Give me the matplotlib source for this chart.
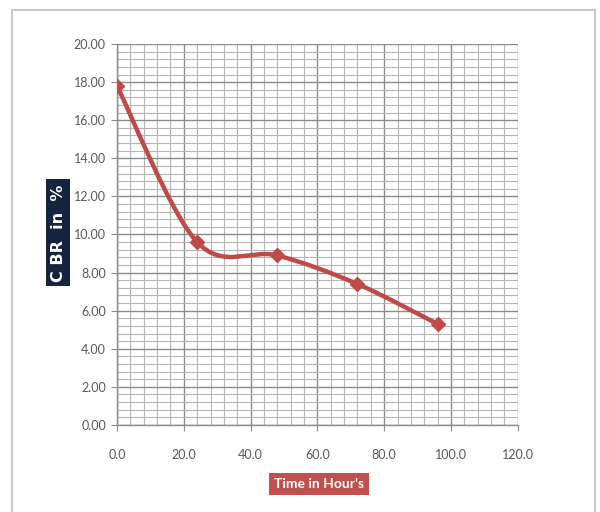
import numpy as np
import matplotlib.pyplot as plt
from matplotlib.path import Path
from matplotlib.patches import PathPatch, Rectangle
from matplotlib.ticker import MultipleLocator, FormatStrFormatter

# Data
time_hours = [0, 24, 48, 72, 96]
cbr_percent = [17.8, 9.6, 8.9, 7.4, 5.3]

line_color = "#bf4a47"
tick_color = "#595959"

fig = plt.figure(figsize=(6, 5.12), dpi=100)
ax = fig.add_axes([0.195, 0.170, 0.668, 0.744])

# Smoothed line (Excel-style Bezier through the points)
pts = np.column_stack([time_hours, cbr_percent]).astype(float)
verts = [pts[0]]
codes = [Path.MOVETO]
n = len(pts)
for i in range(n - 1):
    p0 = pts[max(i - 1, 0)]
    p1 = pts[i]
    p2 = pts[i + 1]
    p3 = pts[min(i + 2, n - 1)]
    verts += [p1 + (p2 - p0) / 6, p2 - (p3 - p1) / 6, p2]
    codes += [Path.CURVE4] * 3
curve = PathPatch(Path(verts, codes), facecolor="none", edgecolor=line_color,
                  linewidth=3.2, capstyle="round", joinstyle="round", zorder=3)
ax.add_patch(curve)
ax.plot(time_hours, cbr_percent, linestyle="none", marker="D", markersize=7,
        color=line_color, zorder=4)

ax.set_xlim(0, 120)
ax.set_ylim(0, 20)
ax.xaxis.set_major_locator(MultipleLocator(20))
ax.xaxis.set_minor_locator(MultipleLocator(4))
ax.yaxis.set_major_locator(MultipleLocator(2))
ax.yaxis.set_minor_locator(MultipleLocator(0.4))
ax.xaxis.set_major_formatter(FormatStrFormatter("%.1f"))
ax.yaxis.set_major_formatter(FormatStrFormatter("%.2f"))

ax.grid(which="major", color="#8c8c8c", linewidth=1.0)
ax.grid(which="minor", color="#b5b5b5", linewidth=0.8)
ax.set_axisbelow(True)

for side in ["top", "right"]:
    ax.spines[side].set_visible(False)
for side in ["left", "bottom"]:
    ax.spines[side].set_color("#8c8c8c")
    ax.spines[side].set_linewidth(1.0)

ax.tick_params(which="major", length=4, color="#8c8c8c", labelcolor=tick_color,
               labelsize=9)
ax.tick_params(which="minor", length=0)
ax.tick_params(axis="x", pad=13)
ax.tick_params(axis="y", pad=4)
for lab in ax.get_xticklabels() + ax.get_yticklabels():
    lab.set_family("Lato")

# Axis titles in coloured boxes
fig.text(0.097, 0.545, "C BR  in  %", rotation=90, ha="center", va="center",
         color="white", fontsize=11.5, fontweight="bold", family="DejaVu Sans",
         bbox=dict(boxstyle="square,pad=0.3", facecolor="#14243f", edgecolor="none"))
fig.text(0.532, 0.054, "Time in Hour's", ha="center", va="center",
         color="white", fontsize=10, fontweight="bold", family="Lato",
         bbox=dict(boxstyle="square,pad=0.35", facecolor="#c0504d", edgecolor="none"))

# Outer chart frame
fig.patches.append(Rectangle((0.02, -0.05), 0.972, 1.03, transform=fig.transFigure,
                             facecolor="none", edgecolor="#c8c8c8", linewidth=1.5))

fig.savefig("out.png", dpi=100)
